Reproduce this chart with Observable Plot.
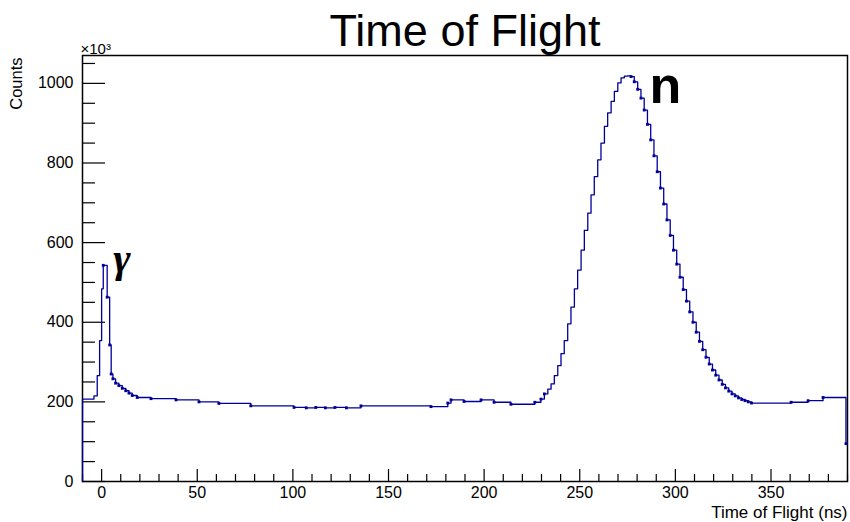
<!DOCTYPE html>
<html>
<head>
<meta charset="utf-8">
<script src="https://cdn.jsdelivr.net/npm/d3@7"></script>
<script src="https://cdn.jsdelivr.net/npm/@observablehq/plot@0.6"></script>
<style>
html, body { margin: 0; padding: 0; background: #fff; }
#chart svg { display: block; }
</style>
</head>
<body>
<div id="chart"></div>
<script>
// Histogram bins: left edge of each bin (ns) and counts (×10^3)
const tofStart = [
  -10, -4, -2.3, -1.05, 0, 0.85, 2.9, 4.2, 5.0, 5.9, 7.3, 9.0, 10.8, 12.6, 14.3, 16.0, 18.6,
  25.8, 38.9, 50.9, 61.3, 78.0, 100.6, 107, 112, 117, 122, 128, 135.6, 172.2, 181.0, 182.7,
  189.5, 198.4, 205.2, 214.0, 226.5, 229.7, 231.5, 233.3, 235.0, 236.7, 238.5, 240.2, 241.9,
  243.7, 245.4, 247.2, 248.9, 250.7, 252.4, 254.2, 255.9, 257.6, 259.4, 261.1, 262.9, 264.6,
  266.4, 268.1, 269.9, 271.6, 273.3, 275.0, 276.8, 278.5, 280.3, 282.0, 283.7, 285.4, 287.1,
  288.8, 290.5, 292.2, 293.9, 295.6, 297.3, 299.0, 300.7, 302.4, 304.1, 305.8, 307.5, 309.2,
  310.9, 312.6, 314.3, 316.0, 317.7, 319.4, 321.1, 322.8, 324.5, 326.2, 327.9, 329.6, 331.3,
  333.0, 334.7, 336.4, 338.1, 339.8, 360.5, 369.4, 377.2, 389.2
];
const counts = [
  207, 215, 266, 354, 484, 543, 463, 343, 270, 258, 247, 241, 234, 228, 222, 216, 211,
  208, 205, 200, 196, 190, 186, 185, 186, 185, 186, 185, 190, 188, 197, 205,
  201, 205, 199, 194, 199, 207, 220, 232, 245, 266, 291, 321, 354,
  396, 438, 484, 531, 581, 631, 674, 720, 766, 808, 850, 892, 926,
  955, 980, 1001, 1014, 1018, 1019, 1017, 1004, 985, 963, 933, 897, 858,
  818, 778, 737, 697, 657, 618, 581, 546, 513, 482, 453, 426, 400,
  375, 352, 331, 312, 295, 280, 267, 255, 244, 235, 227, 220, 215,
  210, 206, 203, 200, 197, 199, 203, 211, 95
];
const xDomain = [-10, 390];
const yDomain = [0, 1070];
const xMajorTicks = [0, 50, 100, 150, 200, 250, 300, 350];
const yMajorTicks = [0, 200, 400, 600, 800, 1000];
const titleText = "Time of Flight";
const xLabel = "Time of Flight (ns)";
const yLabel = "Counts";
const yExponent = "×10³";
const gammaLabel = "γ";
const neutronLabel = "n";

const W = 850, H = 522;
const mL = 82, mR = 3, mT = 55, mB = 41;
const plotW = W - mL - mR, plotH = H - mT - mB;
const lineColor = "#000099";

const bins = tofStart.map((t, i) => ({t, c: counts[i]}));
const stepData = [{t: xDomain[0], c: 0}, ...bins, {t: xDomain[1], c: counts[counts.length - 1]}];
const markerData = bins.filter(d => d.t >= 0.85 && (d.t < 232 || d.t > 276));
const xMinorTicks = d3.range(-10, 391, 10).filter(v => v % 50 !== 0);
const yMinorTicks = d3.range(0, 1070, 50).filter(v => v % 200 !== 0);

const gammaPeak = bins.filter(d => d.t < 20).reduce((a, b) => (b.c > a.c ? b : a));
const neutronPeak = bins.filter(d => d.t > 200).reduce((a, b) => (b.c > a.c ? b : a));

const chart = Plot.plot({
  width: W, height: H,
  marginLeft: mL, marginRight: mR, marginTop: mT, marginBottom: mB,
  style: {fontFamily: "'Liberation Sans', Arial, Helvetica, sans-serif", fontSize: "16px", background: "white", color: "black"},
  x: {domain: xDomain},
  y: {domain: yDomain},
  marks: [
    Plot.axisX({ticks: xMajorTicks, tickFormat: d => String(d), tickSize: 0, tickPadding: 5, label: null, fontSize: 16}),
    Plot.axisY({ticks: yMajorTicks, tickFormat: d => String(d), tickSize: 0, tickPadding: 9, label: null, fontSize: 16}),
    Plot.ruleX(xMinorTicks, {x: d => d, insetTop: plotH - 7, stroke: "black", strokeWidth: 1.2}),
    Plot.ruleX(xMajorTicks, {x: d => d, insetTop: plotH - 12, stroke: "black", strokeWidth: 1.2}),
    Plot.ruleY(yMinorTicks, {y: d => d, insetRight: plotW - 13, stroke: "black", strokeWidth: 1.2}),
    Plot.ruleY(yMajorTicks, {y: d => d, insetRight: plotW - 23, stroke: "black", strokeWidth: 1.2}),
    Plot.frame({stroke: "black", strokeWidth: 1.5}),
    Plot.line(stepData, {x: "t", y: "c", curve: "step-after", stroke: lineColor, strokeWidth: 1.3}),
    Plot.dot(markerData, {x: "t", y: "c", symbol: "square", r: 1.6, fill: lineColor, stroke: "none"}),
    Plot.text([titleText], {text: d => d, frameAnchor: "top", dy: -10, lineAnchor: "bottom", fontSize: 45, fill: "black"}),
    Plot.text([yLabel], {text: d => d, frameAnchor: "top-left", rotate: -90, textAnchor: "end", lineAnchor: "middle", dx: -66, dy: 2, fontSize: 16.5, fill: "black"}),
    Plot.text([yExponent], {text: d => d, frameAnchor: "top-left", textAnchor: "start", lineAnchor: "bottom", dx: -2, dy: -2, fontSize: 15, fill: "black"}),
    Plot.text([xLabel], {text: d => d, frameAnchor: "bottom-right", textAnchor: "end", lineAnchor: "bottom", dy: 36, fontSize: 17, fill: "black"}),
    Plot.text([gammaPeak], {x: "t", y: "c", text: () => gammaLabel, textAnchor: "start", lineAnchor: "bottom", dx: 10, dy: 7, fontSize: 42, fontWeight: "bold", fontStyle: "italic", fontFamily: "'Liberation Serif', serif", fill: "black"}),
    Plot.text([neutronPeak], {x: "t", y: "c", text: () => neutronLabel, textAnchor: "start", lineAnchor: "bottom", dx: 22, dy: 27, fontSize: 52, fontWeight: "bold", fontFamily: "'Liberation Sans', Arial, sans-serif", fill: "black"})
  ]
});
document.getElementById("chart").appendChild(chart);
</script>
</body>
</html>
